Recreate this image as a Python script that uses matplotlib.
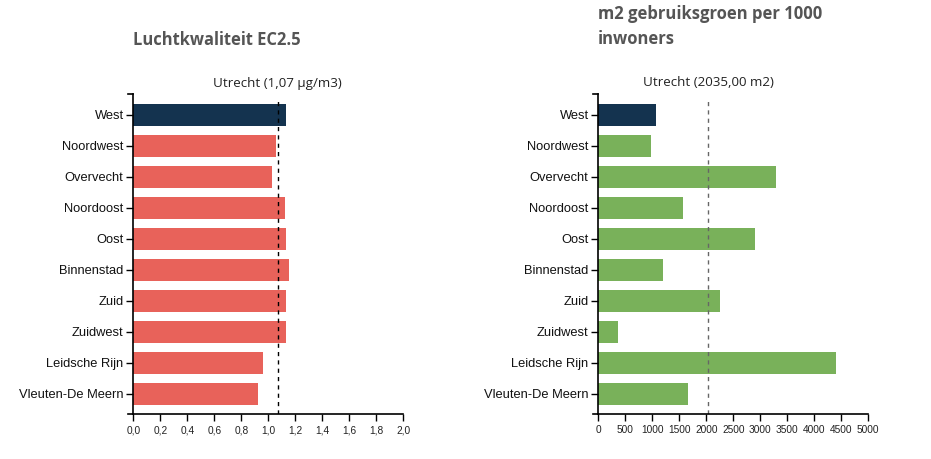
import matplotlib.pyplot as plt
from matplotlib.lines import Line2D

# Data
wijken = ['West', 'Noordwest', 'Overvecht', 'Noordoost', 'Oost',
          'Binnenstad', 'Zuid', 'Zuidwest', 'Leidsche Rijn', 'Vleuten-De Meern']
lucht = [1.13, 1.06, 1.03, 1.12, 1.13, 1.15, 1.13, 1.13, 0.96, 0.92]
groen = [1060, 975, 3300, 1560, 2900, 1190, 2250, 360, 4400, 1660]
utrecht_lucht = 1.07
utrecht_groen = 2035.0
lucht_ticks = [0.0, 0.2, 0.4, 0.6, 0.8, 1.0, 1.2, 1.4, 1.6, 1.8, 2.0]
groen_ticks = [0, 500, 1000, 1500, 2000, 2500, 3000, 3500, 4000, 4500, 5000]

navy = '#14334f'
red = '#e8625a'
green = '#79b15a'
title_color = '#555555'

fig = plt.figure(figsize=(9.31, 4.59), dpi=100)
W, H = 931, 459


def panel(x0, values, color, ticks, xmax, fmt, ref, ref_label, ref_color):
    ax = fig.add_axes([x0 / W, 1 - 414 / H, 270 / W, 320 / H])
    ypos = list(range(len(wijken)))
    colors = [navy] + [color] * (len(values) - 1)
    ax.barh(ypos, values, height=0.7, color=colors)
    ax.set_ylim(9.65, -0.67)
    ax.set_xlim(0, xmax)
    ax.set_yticks(ypos)
    ax.set_yticklabels(wijken, fontsize=9.3, family='Liberation Sans', color='#111111')
    ax.set_xticks(ticks)
    ax.set_xticklabels([fmt(t) for t in ticks], fontsize=7.3, family='Liberation Sans',
                       color='#222222')
    ax.tick_params(axis='y', length=5, width=1, pad=2)
    ax.tick_params(axis='x', length=5, width=1, pad=3)
    for s in ['top', 'right']:
        ax.spines[s].set_visible(False)
    for s in ['left', 'bottom']:
        ax.spines[s].set_linewidth(1.2)
    ax.axvline(ref, ymin=0, ymax=0.985, color=ref_color, linestyle=(0, (3, 3)), linewidth=1)
    ax.text(ref, 1 + 11 / 320, ref_label, ha='center', va='center', fontsize=9.6,
            family='Open Sans', color='#222222', transform=ax.get_xaxis_transform())
    # outer ticks like d3 axis
    ax.add_line(Line2D([-5 / 270, 0], [1, 1], transform=ax.transAxes, color='black',
                       linewidth=1.2, clip_on=False))
    ax.add_line(Line2D([-5 / 270, 0], [0, 0], transform=ax.transAxes, color='black',
                       linewidth=1.2, clip_on=False))
    return ax


ax1 = panel(133.3, lucht, red, lucht_ticks, 2.0,
            lambda t: f'{t:.1f}'.replace('.', ','), utrecht_lucht,
            'Utrecht (1,07 µg/m3)', 'black')
ax2 = panel(598.3, groen, green, groen_ticks, 5000,
            lambda t: f'{t:d}', utrecht_groen,
            'Utrecht (2035,00 m2)', '#666666')

fig.text(133 / W, 1 - 40 / H, 'Luchtkwaliteit EC2.5', fontsize=11.9, fontweight='bold',
         family='Open Sans', color=title_color, ha='left', va='center')
fig.text(598 / W, 1 - 26.5 / H, 'm2 gebruiksgroen per 1000\ninwoners', fontsize=12,
         fontweight='bold', family='Open Sans', color=title_color, ha='left',
         va='center', linespacing=1.45)

plt.savefig('out.png', dpi=100)
